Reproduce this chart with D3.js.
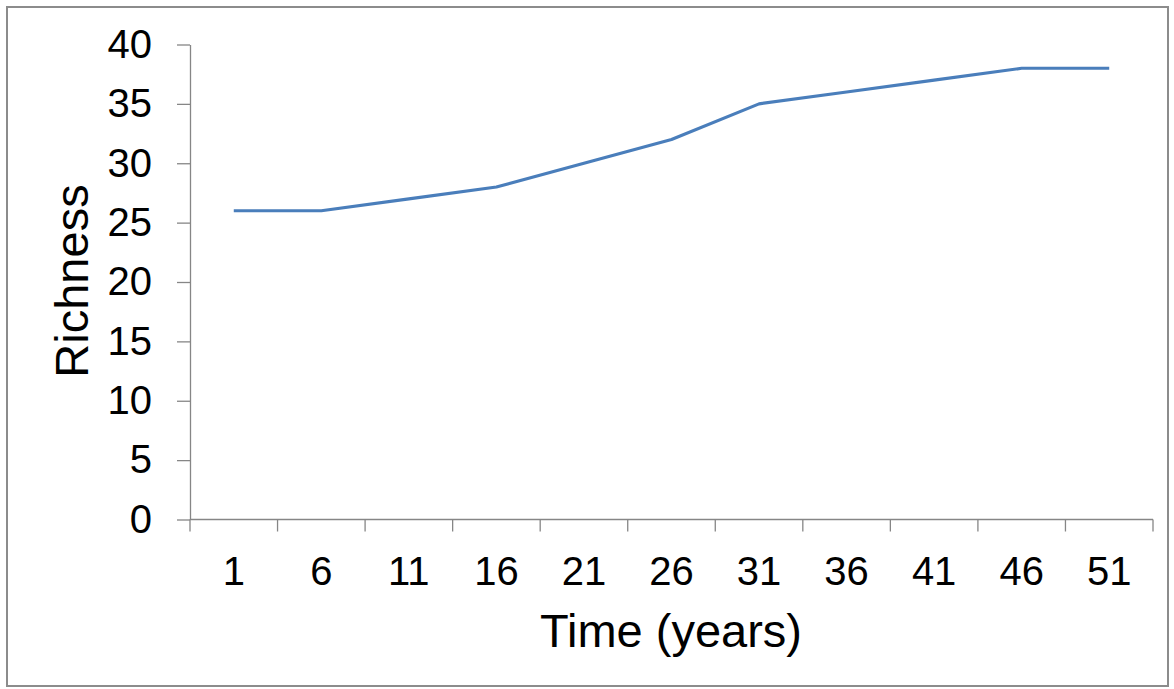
<!DOCTYPE html>
<html>
<head>
<meta charset="utf-8">
<script src="https://cdn.jsdelivr.net/npm/d3@7"></script>
<style>
  html, body { margin: 0; padding: 0; background: #fff; }
  svg { display: block; font-family: "Liberation Sans", Arial, sans-serif; }
</style>
</head>
<body>
<svg id="chart" width="1174" height="689"></svg>
<script>
// Species richness over time
const years = ["1", "6", "11", "16", "21", "26", "31", "36", "41", "46", "51"];
const richness = [26, 26, 27, 28, 30, 32, 35, 36, 37, 38, 38];
const yTicks = [0, 5, 10, 15, 20, 25, 30, 35, 40];
const xTitle = "Time (years)";
const yTitle = "Richness";

const svg = d3.select("#chart");
const plot = { left: 190, right: 1153, top: 44.5, bottom: 519.5 };

// outer frame
svg.append("rect")
  .attr("x", 7).attr("y", 7)
  .attr("width", 1161).attr("height", 679)
  .attr("fill", "#fff")
  .attr("stroke", "#8c8c8c")
  .attr("stroke-width", 2);

const x = d3.scaleBand().domain(years).range([plot.left, plot.right]).paddingInner(0).paddingOuter(0);
const y = d3.scaleLinear().domain([0, 40]).range([plot.bottom, plot.top]);

const axisColor = "#868686";

// y axis
const yAxis = svg.append("g")
  .attr("transform", `translate(${plot.left},0)`)
  .call(d3.axisLeft(y).tickValues(yTicks).tickSize(13).tickPadding(25).tickSizeOuter(0));
yAxis.select(".domain").attr("stroke", axisColor).attr("stroke-width", 1.3);
yAxis.selectAll(".tick line").attr("stroke", axisColor).attr("stroke-width", 1.3);
yAxis.selectAll(".tick text")
  .attr("fill", "#000")
  .style("font-size", "40px")
  .style("font-family", "'Liberation Sans', Arial, sans-serif");

// x axis: labels at category centres, tick marks at category boundaries
const xAxis = svg.append("g").attr("transform", `translate(0,${plot.bottom})`);
xAxis.append("line")
  .attr("x1", plot.left).attr("x2", plot.right)
  .attr("stroke", axisColor).attr("stroke-width", 1.3);
const bounds = years.map(d => x(d)).concat([x.range()[1]]);
xAxis.selectAll("line.tick")
  .data(bounds)
  .join("line")
  .attr("class", "tick")
  .attr("x1", d => d).attr("x2", d => d)
  .attr("y1", 0).attr("y2", 12)
  .attr("stroke", axisColor).attr("stroke-width", 1.3);
xAxis.selectAll("text.lbl")
  .data(years)
  .join("text")
  .attr("class", "lbl")
  .attr("x", d => x(d) + x.bandwidth() / 2)
  .attr("y", 65.5)
  .attr("text-anchor", "middle")
  .style("font-size", "40px")
  .text(d => d);

// axis titles
svg.append("text")
  .attr("x", 671).attr("y", 647)
  .attr("text-anchor", "middle")
  .style("font-size", "47px")
  .text(xTitle);
svg.append("text")
  .attr("transform", "translate(88,281) rotate(-90)")
  .attr("text-anchor", "middle")
  .style("font-size", "47px")
  .text(yTitle);

// series line
const line = d3.line()
  .x((d, i) => x(years[i]) + x.bandwidth() / 2)
  .y(d => y(d));
svg.append("path")
  .datum(richness)
  .attr("d", line)
  .attr("fill", "none")
  .attr("stroke", "#4a7ebb")
  .attr("stroke-width", 3.2)
  .attr("stroke-linejoin", "round");
</script>
</body>
</html>
